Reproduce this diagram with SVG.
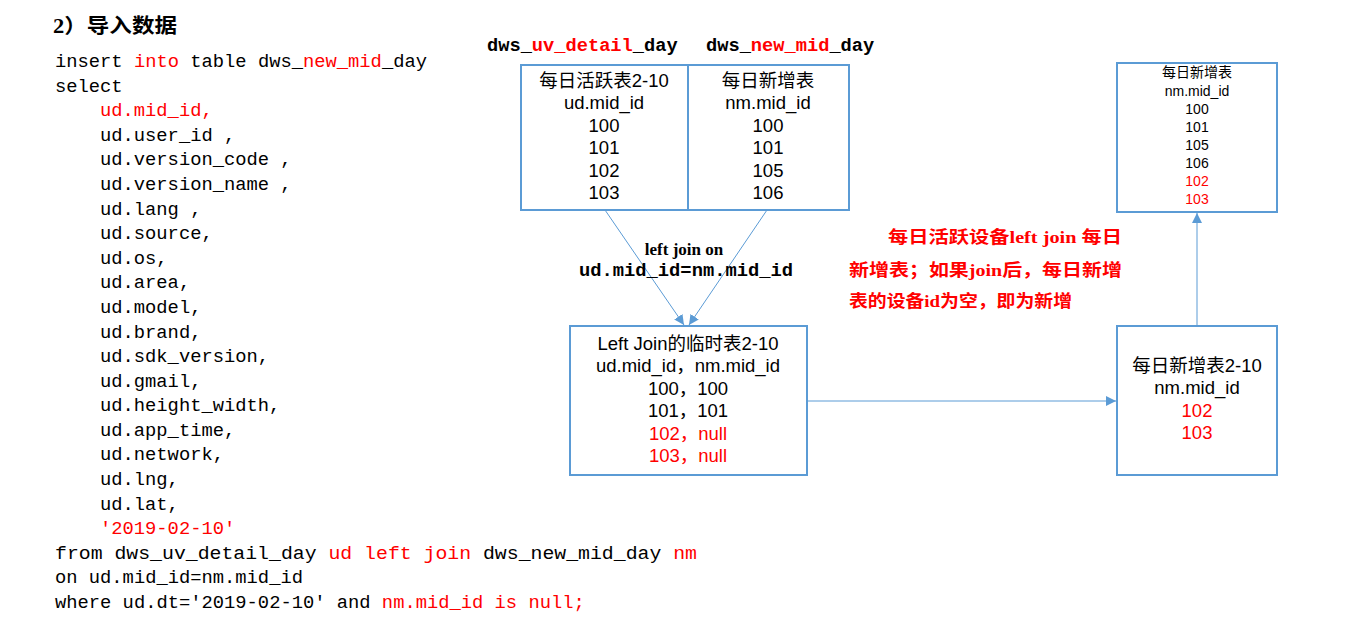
<svg xmlns="http://www.w3.org/2000/svg" width="1353" height="623" viewBox="0 0 1353 623">
<style>
.code{font-family:"Liberation Mono","Noto Sans CJK SC",monospace;font-size:18.8px;fill:#000}
.hdr{font-family:"Liberation Mono",monospace;font-size:18.7px;font-weight:bold;fill:#000}
.t{font-family:"Liberation Sans","Noto Sans CJK SC",sans-serif;font-size:18.5px;fill:#000;text-anchor:middle}
.s{font-family:"Liberation Sans","Noto Sans CJK SC",sans-serif;font-size:14px;fill:#000;text-anchor:middle}
.box{fill:#fff;stroke:#5B9BD5;stroke-width:2}
.con{stroke:#5B9BD5;stroke-width:1;fill:none}
.note{font-family:"Liberation Serif","Noto Sans CJK SC",serif;font-size:17px;font-weight:bold;fill:#FF0000}
.r{fill:#FF0000}
</style>
<defs>
<marker id="arr" viewBox="0 0 10 10" refX="10" refY="5" markerWidth="10" markerHeight="10" markerUnits="userSpaceOnUse" orient="auto">
<path d="M0,0 L10,5 L0,10 z" fill="#5B9BD5"/>
</marker>
</defs>
<rect width="1353" height="623" fill="#fff"/>
<text x="53" y="33" font-family="Liberation Serif,'Noto Sans CJK SC',serif" font-size="20" font-weight="bold" textLength="124" lengthAdjust="spacingAndGlyphs">2）导入数据</text>
<g id="code">
<text class="code" x="55" y="67">insert <tspan class="r">into</tspan> table dws_<tspan class="r">new_mid</tspan>_day</text>
<text class="code" x="55" y="91.6">select</text>
<text class="code r" x="100" y="116.2">ud.mid_id,</text>
<text class="code" x="100" y="140.8">ud.user_id ,</text>
<text class="code" x="100" y="165.4">ud.version_code ,</text>
<text class="code" x="100" y="190">ud.version_name ,</text>
<text class="code" x="100" y="214.5">ud.lang ,</text>
<text class="code" x="100" y="239.1">ud.source,</text>
<text class="code" x="100" y="263.7">ud.os,</text>
<text class="code" x="100" y="288.3">ud.area,</text>
<text class="code" x="100" y="312.9">ud.model,</text>
<text class="code" x="100" y="337.5">ud.brand,</text>
<text class="code" x="100" y="362.1">ud.sdk_version,</text>
<text class="code" x="100" y="386.7">ud.gmail,</text>
<text class="code" x="100" y="411.3">ud.height_width,</text>
<text class="code" x="100" y="435.9">ud.app_time,</text>
<text class="code" x="100" y="460.4">ud.network,</text>
<text class="code" x="100" y="485">ud.lng,</text>
<text class="code" x="100" y="509.6">ud.lat,</text>
<text class="code r" x="100" y="534.2">'2019-02-10'</text>
<text class="code" x="55" y="558.8" textLength="642" lengthAdjust="spacingAndGlyphs">from dws_uv_detail_day <tspan class="r">ud left join</tspan> dws_new_mid_day <tspan class="r">nm</tspan></text>
<text class="code" x="55" y="583.4">on ud.mid_id=nm.mid_id</text>
<text class="code" x="55" y="608">where ud.dt='2019-02-10' and <tspan class="r">nm.mid_id is null;</tspan></text>
</g>
<g id="headers">
<text class="hdr" x="487" y="51">dws_<tspan class="r">uv_detail</tspan>_day</text>
<text class="hdr" x="706" y="51">dws_<tspan class="r">new_mid</tspan>_day</text>
</g>
<g id="connectors">
<line class="con" x1="605" y1="210" x2="684" y2="325" marker-end="url(#arr)"/>
<line class="con" x1="767" y1="210" x2="689" y2="325" marker-end="url(#arr)"/>
<line class="con" x1="807" y1="401" x2="1116" y2="401" marker-end="url(#arr)"/>
<line class="con" x1="1197" y1="326" x2="1197" y2="213" marker-end="url(#arr)"/>
<text x="684" y="255" font-family="Liberation Serif,serif" font-size="17" font-weight="bold" text-anchor="middle">left join on</text>
<text x="686" y="276" font-family="Liberation Mono,monospace" font-size="18.8" font-weight="bold" text-anchor="middle">ud.mid_id=nm.mid_id</text>
</g>
<g id="uv_detail">
<rect class="box" x="521" y="65" width="167" height="145"/>
<text class="t" x="604" y="86.5">每日活跃表2-10</text>
<text class="t" x="604" y="109">ud.mid_id</text>
<text class="t" x="604" y="131.6">100</text>
<text class="t" x="604" y="154.2">101</text>
<text class="t" x="604" y="176.8">102</text>
<text class="t" x="604" y="199.4">103</text>
</g>
<g id="new_mid">
<rect class="box" x="688" y="65" width="161" height="145"/>
<text class="t" x="768" y="86.5">每日新增表</text>
<text class="t" x="768" y="109">nm.mid_id</text>
<text class="t" x="768" y="131.6">100</text>
<text class="t" x="768" y="154.2">101</text>
<text class="t" x="768" y="176.8">105</text>
<text class="t" x="768" y="199.4">106</text>
</g>
<g id="left_join">
<rect class="box" x="570" y="326" width="237" height="149"/>
<text class="t" x="688" y="349.5">Left Join的临时表2-10</text>
<text class="t" x="688" y="372">ud.mid_id，nm.mid_id</text>
<text class="t" x="688" y="394.6">100，100</text>
<text class="t" x="688" y="417.2">101，101</text>
<text class="t r" x="688" y="439.8">102，null</text>
<text class="t r" x="688" y="462.4">103，null</text>
</g>
<g id="new_2_10">
<rect class="box" x="1117" y="326" width="160" height="149"/>
<text class="t" x="1197" y="371.5">每日新增表2-10</text>
<text class="t" x="1197" y="394">nm.mid_id</text>
<text class="t r" x="1197" y="416.6">102</text>
<text class="t r" x="1197" y="439.2">103</text>
</g>
<g id="new_all">
<rect class="box" x="1117" y="63" width="160" height="149"/>
<text class="s" x="1197" y="77">每日新增表</text>
<text class="s" x="1197" y="96">nm.mid_id</text>
<text class="s" x="1197" y="114">100</text>
<text class="s" x="1197" y="132">101</text>
<text class="s" x="1197" y="150">105</text>
<text class="s" x="1197" y="168">106</text>
<text class="s r" x="1197" y="186">102</text>
<text class="s r" x="1197" y="204">103</text>
</g>
<g id="note">
<text class="note" x="888" y="243" textLength="234" lengthAdjust="spacingAndGlyphs">每日活跃设备left join 每日</text>
<text class="note" x="849" y="276" textLength="273" lengthAdjust="spacingAndGlyphs">新增表；如果join后，每日新增</text>
<text class="note" x="849" y="307" textLength="223" lengthAdjust="spacingAndGlyphs">表的设备id为空，即为新增</text>
</g>
</svg>
